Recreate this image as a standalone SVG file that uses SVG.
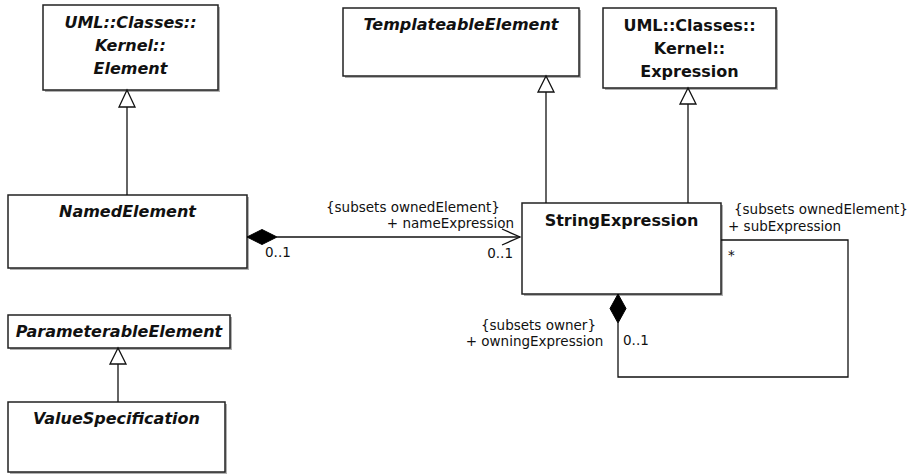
<svg xmlns="http://www.w3.org/2000/svg" width="908" height="475" viewBox="0 0 908 475">
<style>
.sh{fill:#b0b0b0}
.box{fill:#fff;stroke:#222;stroke-width:1.5}
.t{font-family:"DejaVu Sans",Verdana,sans-serif;font-weight:bold;font-style:italic;font-size:16px;text-anchor:middle;fill:#111}
.tn{font-style:normal}
.l{font-family:"DejaVu Sans",Verdana,sans-serif;font-size:13.5px;fill:#111}
.m{text-anchor:middle}
.e{text-anchor:end}
.ln{fill:none;stroke:#111;stroke-width:1.3}
.gen{fill:#fff;stroke:#111;stroke-width:1.3}
.dia{fill:#000;stroke:#000;stroke-width:1}
</style>
<g id="Element">
<rect class="sh" x="45" y="7" width="175" height="85"/>
<rect class="box" x="43" y="5" width="175" height="85"/>
<text class="t" x="130.5" y="28">UML::Classes::</text>
<text class="t" x="130.5" y="51">Kernel::</text>
<text class="t" x="130.5" y="74">Element</text>
</g>
<g id="TemplateableElement">
<rect class="sh" x="345" y="10" width="236" height="68"/>
<rect class="box" x="343" y="8" width="236" height="68"/>
<text class="t" x="461" y="30">TemplateableElement</text>
</g>
<g id="Expression">
<rect class="sh" x="605" y="10" width="173" height="80"/>
<rect class="box" x="603" y="8" width="173" height="80"/>
<text class="t tn" x="689.5" y="31">UML::Classes::</text>
<text class="t tn" x="689.5" y="54">Kernel::</text>
<text class="t tn" x="689.5" y="77">Expression</text>
</g>
<g id="NamedElement">
<rect class="sh" x="10" y="197" width="239" height="73"/>
<rect class="box" x="8" y="195" width="239" height="73"/>
<text class="t" x="127.5" y="217">NamedElement</text>
</g>
<g id="StringExpression">
<rect class="sh" x="524" y="205" width="199" height="91"/>
<rect class="box" x="522" y="203" width="199" height="91"/>
<text class="t tn" x="621.5" y="226">StringExpression</text>
</g>
<g id="ParameterableElement">
<rect class="sh" x="10" y="317" width="222" height="33"/>
<rect class="box" x="8" y="315" width="222" height="33"/>
<text class="t" x="119" y="337">ParameterableElement</text>
</g>
<g id="ValueSpecification">
<rect class="sh" x="10" y="404" width="217" height="70"/>
<rect class="box" x="8" y="402" width="217" height="70"/>
<text class="t" x="116.5" y="424">ValueSpecification</text>
</g>
<g id="connectors">
<line class="ln" x1="127" y1="195" x2="127" y2="107"/>
<polygon class="gen" points="127,90 119,107 135,107"/>
<line class="ln" x1="546" y1="203" x2="546" y2="92"/>
<polygon class="gen" points="546,76 538,92 554,92"/>
<line class="ln" x1="688" y1="203" x2="688" y2="104"/>
<polygon class="gen" points="688,88 680,104 696,104"/>
<line class="ln" x1="118" y1="402" x2="118" y2="364"/>
<polygon class="gen" points="118,348 110,364 126,364"/>
<line class="ln" x1="277" y1="237" x2="520" y2="237"/>
<polygon class="dia" points="247,237 262,229.5 277,237 262,244.5"/>
<polyline class="ln" points="502,229 520,237 502,245"/>
<polyline class="ln" points="618,323 618,377 848,377 848,240 721,240"/>
<polygon class="dia" points="618,294 626,308.5 618,323 610,308.5"/>
<text class="l" x="326" y="212">{subsets ownedElement}</text>
<text class="l e" x="514" y="228">+ nameExpression</text>
<text class="l" x="265" y="257">0..1</text>
<text class="l e" x="513" y="258">0..1</text>
<text class="l" x="734" y="214">{subsets ownedElement}</text>
<text class="l" x="728" y="231">+ subExpression</text>
<text class="l" x="728" y="260">*</text>
<text class="l m" x="538.5" y="330">{subsets owner}</text>
<text class="l m" x="534.5" y="346">+ owningExpression</text>
<text class="l" x="623" y="345">0..1</text>
</g>
</svg>
